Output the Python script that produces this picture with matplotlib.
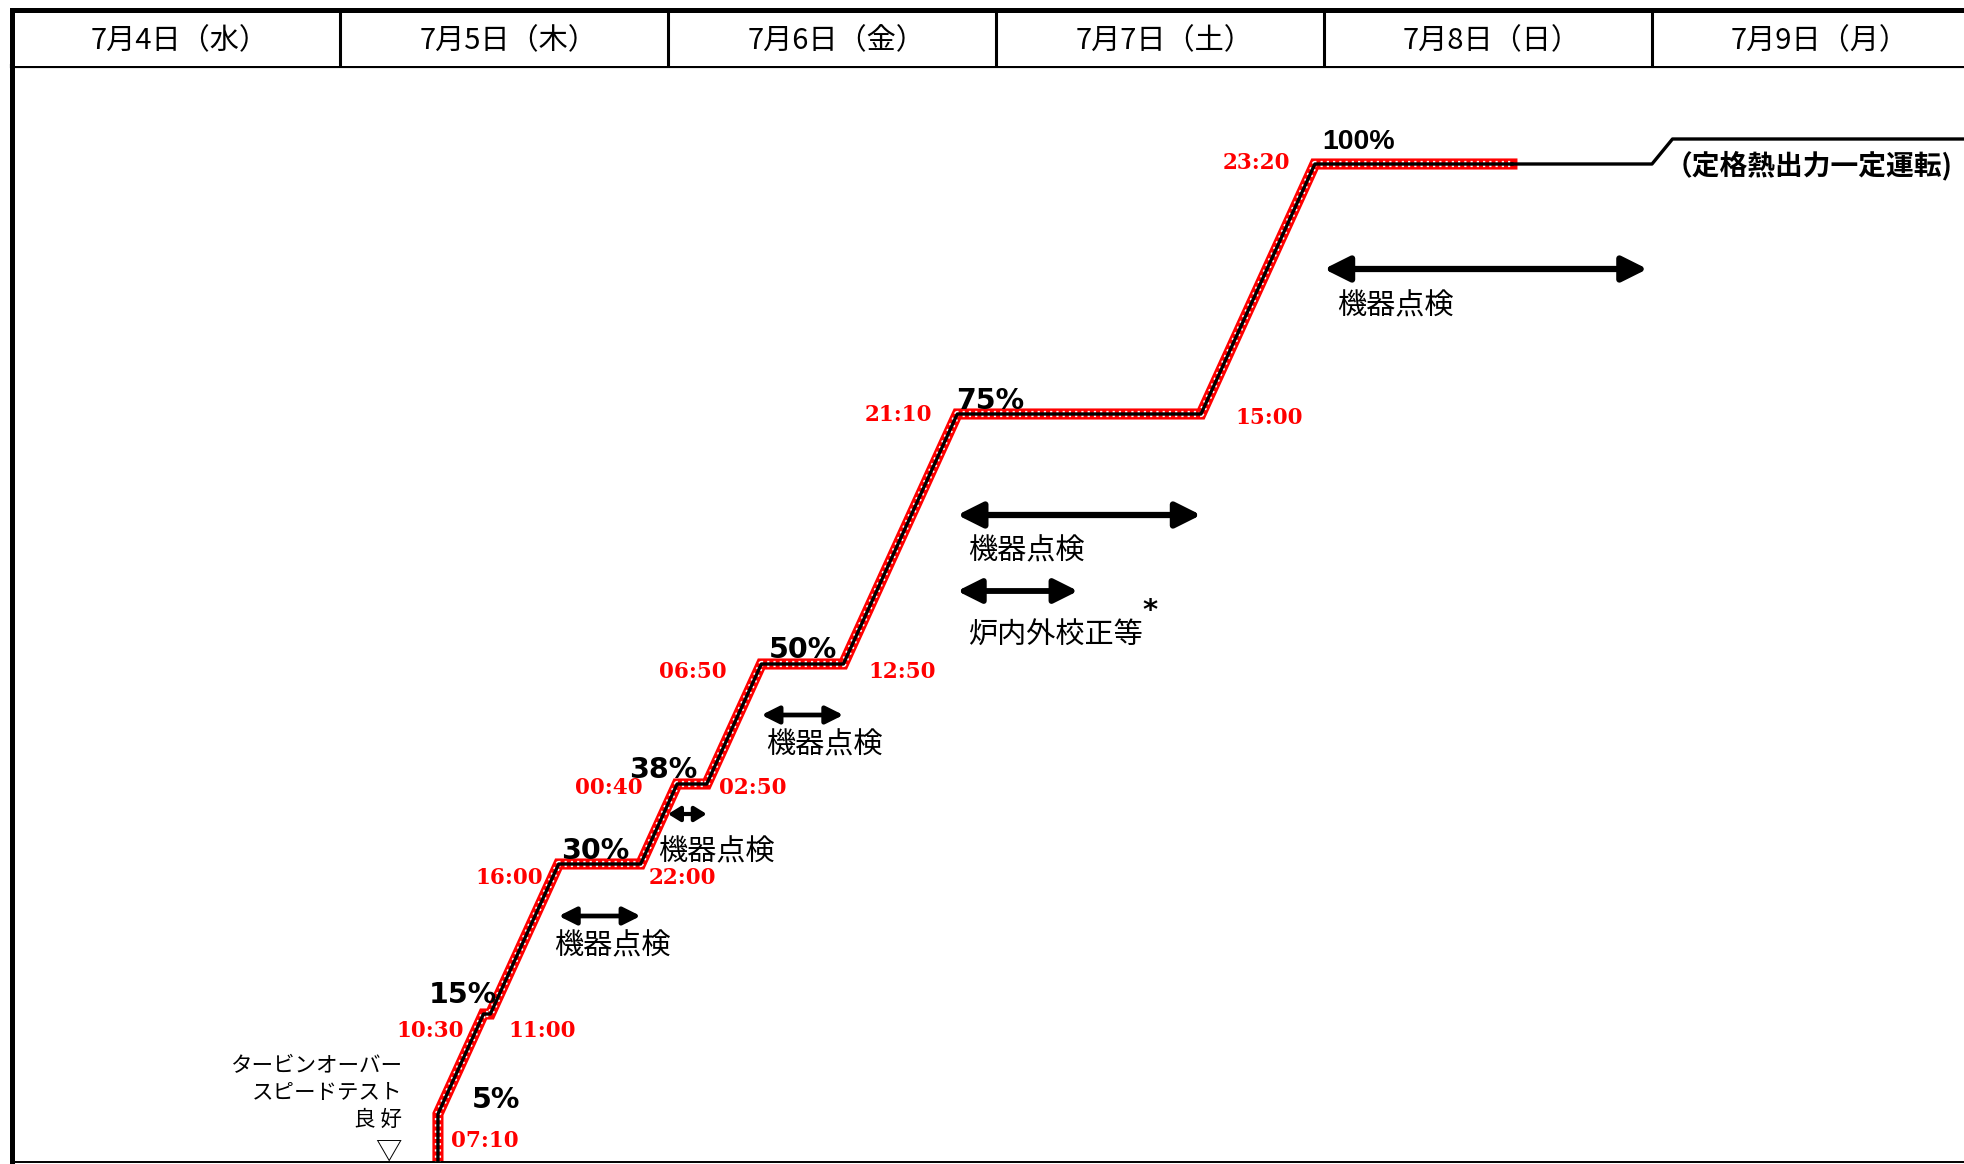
import matplotlib.pyplot as plt

plt.rcParams['font.family'] = ['Noto Sans CJK JP', 'DejaVu Sans']

W, H = 1964, 1164

# header days
day_labels = ['7月4日（水）', '7月5日（木）', '7月6日（金）', '7月7日（土）', '7月8日（日）', '7月9日（月）']

# power ascension profile: corner times and thermal output (%)
ramp_times = ['7/5 07:10', '7/5 07:10', '7/5 10:30', '7/5 11:00', '7/5 16:00', '7/5 22:00',
              '7/6 00:40', '7/6 02:50', '7/6 06:50', '7/6 12:50', '7/6 21:10', '7/7 15:00',
              '7/7 23:20', '7/8 13:45']
ramp_power = [0, 5, 15, 15, 30, 30, 38, 38, 50, 50, 75, 75, 100, 100]

# rated thermal output operation afterwards
rated_times = ['7/8 13:45', '7/9 00:00', '7/9 01:30', '7/10 00:00']
rated_power = [100, 100, 102.5, 102.5]

step_labels = ['5%', '15%', '30%', '38%', '50%', '75%', '100%']
step_corner = [1, 2, 4, 6, 8, 10, 12]

# equipment checks (start, end) and calibration
check_periods = [('7/5 16:00', '7/5 22:00'), ('7/6 00:00', '7/6 02:50'), ('7/6 06:50', '7/6 12:50'),
                 ('7/6 21:10', '7/7 15:00'), ('7/8 00:00', '7/8 23:40')]
check_label = '機器点検'
calib_period = ('7/6 21:10', '7/7 06:00')
calib_label = '炉内外校正等'
turbine_note = 'タービンオーバー\nスピードテスト\n良 好'
rated_note = '（定格熱出力一定運転)'


def hrs(s):
    d, hm = s.split()
    h, m = hm.split(':')
    return (int(d.split('/')[1]) - 4) * 24 + int(h) + int(m) / 60


fig = plt.figure(figsize=(W / 100, H / 100), dpi=100)
ax = fig.add_axes([12 / W, 2 / H, (W - 12) / W, 1096 / H])
ax.set_xlim(0, (W - 12) / (328 / 24))
ax.set_ylim(0.2, 109.8)
ax.set_xticks([])
ax.set_yticks([])
ax.spines['right'].set_visible(False)
ax.spines['left'].set_linewidth(3.6)
ax.spines['top'].set_linewidth(3.0)
ax.spines['bottom'].set_linewidth(1.4)

# header row with the dates
hx = fig.add_axes([12 / W, 1098 / H, (W - 12) / W, 56 / H])
hx.set_xlim(ax.get_xlim())
hx.set_ylim(0, 1)
hx.set_xticks([])
hx.set_yticks([])
hx.spines['right'].set_visible(False)
hx.spines['bottom'].set_visible(False)
hx.spines['top'].set_linewidth(3.6)
hx.spines['left'].set_linewidth(3.6)
for k, lab in enumerate(day_labels):
    hx.text(24 * k + 12.3, 0.44, lab, ha='center', va='center', fontsize=21)
    if k:
        hx.axvline(24 * k, color='black', lw=2.2)

# hatched ramp line
t = [hrs(s) for s in ramp_times]
ax.plot(t, ramp_power, color='red', lw=8, solid_joinstyle='miter', zorder=2)
ax.plot(t, ramp_power, color='white', lw=4.5, ls=(0, (0.35, 0.65)), zorder=3)
ax.plot(t, ramp_power, color='black', lw=2.4, zorder=4)
ax.plot([hrs(s) for s in rated_times], rated_power, color='black', lw=2.4, zorder=4)

# time labels at the corners: offsets in pixels and alignment
time_layout = {1: (13, -27, 'left'), 2: (-20, -17, 'right'), 3: (18, -17, 'left'),
               4: (-16, -14, 'right'), 5: (8, -14, 'left'), 6: (-34, -4, 'right'),
               7: (12, -4, 'left'), 8: (-35, -8, 'right'), 9: (25, -8, 'left'),
               10: (-25, -1, 'right'), 11: (34, -4, 'left'), 12: (-25, 1, 'right')}
for i, (dx, dy, ha) in time_layout.items():
    ax.annotate(ramp_times[i][-5:], (t[i], ramp_power[i]), xytext=(dx, dy),
                textcoords='offset pixels', ha=ha, va='center', color='red',
                fontsize=15.5, family='DejaVu Serif', fontweight='bold',
                annotation_clip=False, zorder=5)

pct_offsets = [(34, 14), (-55, 19), (2, 13), (-48, 14), (7, 14), (-1, 13), (7, 22)]
for lab, i, (dx, dy) in zip(step_labels, step_corner, pct_offsets):
    fam = 'Liberation Sans' if lab == '100%' else 'DejaVu Sans'
    ax.annotate(lab, (t[i], ramp_power[i]), xytext=(dx, dy), textcoords='offset pixels',
                ha='left', va='center', fontsize=20.5, fontweight='bold', family=fam,
                annotation_clip=False, zorder=5)


def arrow(t0, t1, y, ms, lw, hl=0.8):
    ax.annotate('', xy=(t1, y), xytext=(t0, y), annotation_clip=False,
                arrowprops=dict(arrowstyle=f'<|-|>,head_length={hl},head_width=0.4',
                                color='black', lw=lw, mutation_scale=ms,
                                shrinkA=0, shrinkB=0))


check_y = [24.8, 35.0, 44.9, 64.9, 89.5]
check_size = [(13, 3.4, 0.8), (11, 3.0, 0.65), (13, 3.4, 0.8), (19, 4.5, 0.8), (19, 4.5, 0.8)]
check_text_off = [(-5, -30), (-10, -38), (5, -30), (11, -36), (13, -37)]
for (a, b), y, (ms, lw, hl), (dx, dy) in zip(check_periods, check_y, check_size, check_text_off):
    arrow(hrs(a), hrs(b), y, ms, lw, hl)
    ax.annotate(check_label, (hrs(a), y), xytext=(dx, dy), textcoords='offset pixels',
                ha='left', va='center', fontsize=21, annotation_clip=False)

calib_y = 57.3
arrow(hrs(calib_period[0]), hrs(calib_period[1]), calib_y, 18, 4.2)
ax.annotate(calib_label, (hrs(calib_period[0]), calib_y), xytext=(11, -44),
            textcoords='offset pixels', ha='left', va='center', fontsize=21,
            annotation_clip=False)
ax.annotate('*', (hrs(calib_period[0]), calib_y), xytext=(193, -20),
            textcoords='offset pixels', ha='center', va='center', fontsize=21,
            fontweight='bold', family='DejaVu Sans', annotation_clip=False)

# turbine overspeed test note
ax.annotate(turbine_note, (t[0], ramp_power[0]), xytext=(-36, 71), textcoords='offset pixels',
            ha='right', va='center', multialignment='right', fontsize=15.5,
            linespacing=1.3, annotation_clip=False)
ax.annotate('▽', (t[0], ramp_power[0]), xytext=(-50, 11), textcoords='offset pixels',
            ha='center', va='center', fontsize=19, annotation_clip=False)

# rated output note
ax.annotate(rated_note, (hrs(rated_times[2]), rated_power[2]), xytext=(-8, -27),
            textcoords='offset pixels', ha='left', va='center', fontsize=20,
            fontweight='bold', annotation_clip=False)

fig.savefig('out.png', dpi=100)
